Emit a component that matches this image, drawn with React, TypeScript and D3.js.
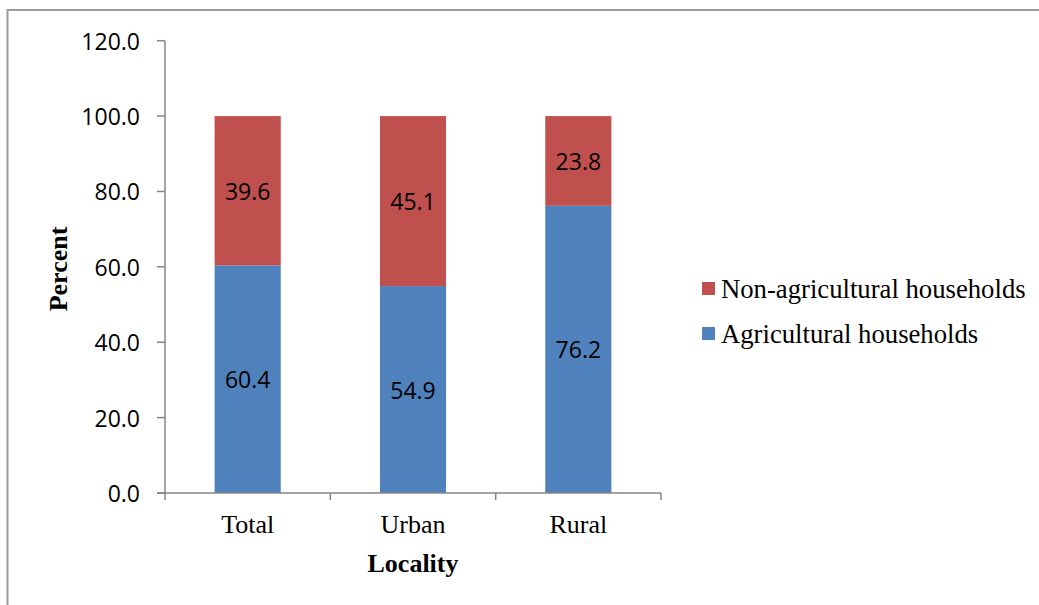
import React from 'react';
import * as d3 from 'd3';

const categories = ['Total', 'Urban', 'Rural'];
const agricultural = [60.4, 54.9, 76.2];
const nonAgricultural = [39.6, 45.1, 23.8];
const yTicks = [0, 20, 40, 60, 80, 100, 120];
const seriesNames = ['Non-agricultural households', 'Agricultural households'];

const BLUE = '#4F81BD';
const RED = '#C0504D';
const AXIS = '#868686';

export default function App() {
  const width = 1039;
  const height = 605;
  const left = 165;
  const right = 661;
  const top = 40.7;
  const bottom = 493;

  const x = d3.scaleBand<string>()
    .domain(categories)
    .range([left, right])
    .paddingInner(0.6)
    .paddingOuter(0.3);

  const y = d3.scaleLinear().domain([0, 120]).range([bottom, top]);

  const step = (right - left) / categories.length;
  const boundaries = d3.range(categories.length + 1).map(i => left + i * step);

  const sans = '"Open Sans", "Liberation Sans", sans-serif';
  const serif = '"Liberation Serif", "Times New Roman", serif';

  return (
    <svg width={width} height={height} style={{ position: 'absolute', left: 0, top: 0, background: '#fff' }}>
      <rect x={7.5} y={10} width={1040} height={610} fill="#fff" stroke="#9a9a9a" strokeWidth={2} />

      {/* bars */}
      {categories.map((c, i) => {
        const x0 = x(c)!;
        const bw = x.bandwidth();
        const a = agricultural[i];
        const n = nonAgricultural[i];
        return (
          <g key={c}>
            <rect x={x0} y={y(a)} width={bw} height={y(0) - y(a)} fill={BLUE} />
            <rect x={x0} y={y(a + n)} width={bw} height={y(a) - y(a + n)} fill={RED} />
            <text x={x0 + bw / 2} y={y(a / 2)} textAnchor="middle" dominantBaseline="central"
              fontFamily={sans} fontSize={23} fill="#000">{a.toFixed(1)}</text>
            <text x={x0 + bw / 2} y={y(a + n / 2)} textAnchor="middle" dominantBaseline="central"
              fontFamily={sans} fontSize={23} fill="#000">{n.toFixed(1)}</text>
          </g>
        );
      })}

      {/* y axis */}
      <line x1={left} x2={left} y1={top} y2={bottom} stroke={AXIS} strokeWidth={1.5} />
      {yTicks.map(t => (
        <g key={t}>
          <line x1={left - 8} x2={left} y1={y(t)} y2={y(t)} stroke={AXIS} strokeWidth={1.5} />
          <text x={140} y={y(t)} textAnchor="end" dominantBaseline="central"
            fontFamily={sans} fontSize={23} fill="#000">{t.toFixed(1)}</text>
        </g>
      ))}

      {/* x axis */}
      <line x1={left - 8} x2={right} y1={bottom} y2={bottom} stroke={AXIS} strokeWidth={1.5} />
      {boundaries.map((b, i) => (
        <line key={i} x1={b} x2={b} y1={bottom} y2={bottom + 7} stroke={AXIS} strokeWidth={1.5} />
      ))}
      {categories.map(c => (
        <text key={c} x={x(c)! + x.bandwidth() / 2} y={533} textAnchor="middle"
          fontFamily={serif} fontSize={26} fill="#000">{c}</text>
      ))}

      {/* axis titles */}
      <text x={(left + right) / 2} y={572} textAnchor="middle" fontFamily={serif}
        fontSize={26} fontWeight="bold" fill="#000">Locality</text>
      <text transform={`translate(67,269) rotate(-90)`} textAnchor="middle" fontFamily={serif}
        fontSize={26} fontWeight="bold" fill="#000">Percent</text>

      {/* legend */}
      {seriesNames.map((s, i) => (
        <g key={s} transform={`translate(702,${282 + i * 45})`}>
          <rect x={0} y={0} width={13} height={13} fill={i === 0 ? RED : BLUE} />
          <text x={19} y={6.5} dominantBaseline="central" fontFamily={serif} fontSize={26.7} fill="#000">{s}</text>
        </g>
      ))}
    </svg>
  );
}
